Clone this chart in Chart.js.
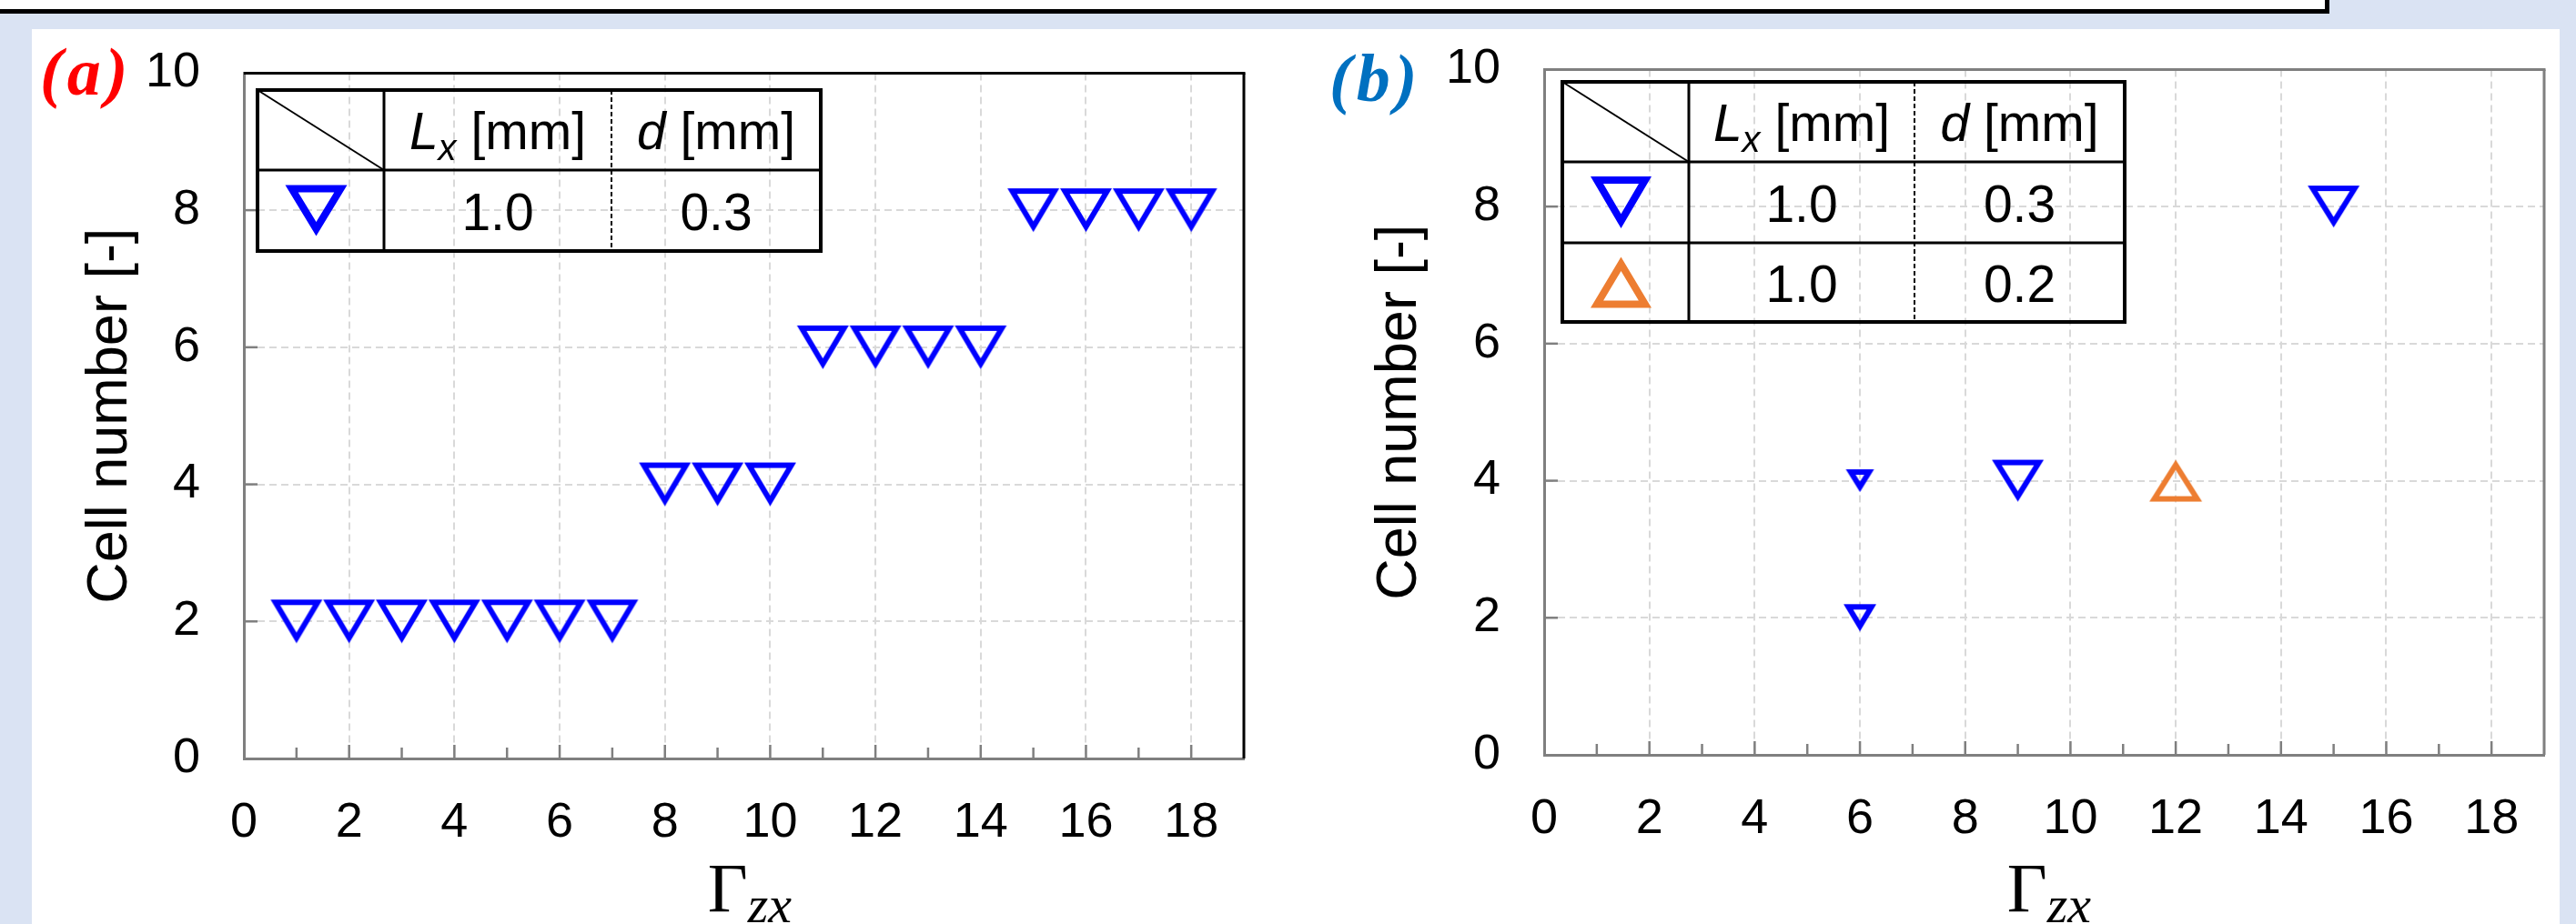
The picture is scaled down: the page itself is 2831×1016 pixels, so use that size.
<!DOCTYPE html>
<html>
<head>
<meta charset="utf-8">
<script src="https://cdn.jsdelivr.net/npm/chart.js@4.4.0/dist/chart.umd.min.js"></script>
<style>
  html, body { margin: 0; padding: 0; }
  body {
    width: 2831px; height: 1016px; position: relative; overflow: hidden;
    background: #dae3f3; font-family: 'Liberation Sans', Arial, sans-serif;
  }
  #topbox {
    position: absolute; left: -10px; top: -10px; width: 2565px; height: 20px;
    background: #fff; border-right: 5px solid #000; border-bottom: 5px solid #000;
  }
  #sheet { position: absolute; left: 35px; top: 32px; width: 2778px; height: 1000px; background: #fff; }
  canvas { position: absolute; }
  #chartA { left: 0; top: 0; }
  #chartB { left: 1429px; top: -4px; }
  #overlay { position: absolute; left: 0; top: 0; }
</style>
</head>
<body>
<div id="topbox"></div>
<div id="sheet"></div>
<canvas id="chartA" width="1420" height="1016"></canvas>
<canvas id="chartB" width="1402" height="1016"></canvas>
<svg id="overlay" width="2831" height="1016" xmlns="http://www.w3.org/2000/svg"></svg>

<script>
// ---- data ----
const xTickLabels = [0, 2, 4, 6, 8, 10, 12, 14, 16, 18];
const xMinorTicks = [1, 3, 5, 7, 9, 11, 13, 15, 17];
const yTickLabels = [0, 2, 4, 6, 8, 10];

// panel (a): L_x = 1.0 mm, d = 0.3 mm
const gammaA = [1, 2, 3, 4, 5, 6, 7, 8, 9, 10, 11, 12, 13, 14, 15, 16, 17, 18];
const cellsA = [2, 2, 2, 2, 2, 2, 2, 4, 4, 4, 6, 6, 6, 6, 8, 8, 8, 8];

// panel (b)
const gammaB03 = [6, 6, 9, 15];
const cellsB03 = [2, 4, 4, 8];
const gammaB02 = [12];
const cellsB02 = [4];

const tableA = [['1.0', '0.3']];
const tableB = [['1.0', '0.3'], ['1.0', '0.2']];

// marker sizes (w, h) per point, styling only
const sizeA = [57, 48];
const sizeB03 = [[36, 30], [31, 25], [57, 46], [57, 46]];
const sizeB02 = [58, 46];

const BLUE = '#0000ff';
const ORANGE = '#ed7d31';
const AXIS = '#7f7f7f';
const GRID = '#d9d9d9';

function triPoints(w, h, t, up) {
  const pts = up ? [[w / 2, 0], [w, h], [0, h]] : [[0, 0], [w, 0], [w / 2, h]];
  const side = Math.hypot(w / 2, h);
  const perim = w + 2 * side;
  const r = (w * h / 2) / (perim / 2);
  const ix = w / 2;
  const iy = up ? h - w * h / perim : w * h / perim;
  const k = Math.max(r - t, 0) / r;
  const inner = pts.map(([px, py]) => [ix + (px - ix) * k, iy + (py - iy) * k]);
  return { pts, inner };
}

function triMarker(w, h, t, color, up) {
  const pad = 2;
  const c = document.createElement('canvas');
  c.width = w + pad * 2;
  c.height = h + pad * 2;
  const g = c.getContext('2d');
  g.translate(pad, pad);
  const { pts, inner } = triPoints(w, h, t, up);
  g.beginPath();
  pts.forEach(([x, y], i) => i ? g.lineTo(x, y) : g.moveTo(x, y));
  g.closePath();
  inner.forEach(([x, y], i) => i ? g.lineTo(x, y) : g.moveTo(x, y));
  g.closePath();
  g.fillStyle = color;
  g.fill('evenodd');
  return c;
}

const frameTicks = {
  id: 'frameTicks',
  beforeDatasetsDraw(chart, args, opts) {
    const { ctx, chartArea: a, scales: { x, y } } = chart;
    const line = (x1, y1, x2, y2) => { ctx.beginPath(); ctx.moveTo(x1, y1); ctx.lineTo(x2, y2); ctx.stroke(); };
    ctx.save();
    ctx.strokeStyle = AXIS;
    ctx.lineWidth = 2.5;
    xTickLabels.slice(1).forEach(v => { const px = x.getPixelForValue(v); line(px, a.bottom, px, a.bottom - 15); });
    xMinorTicks.forEach(v => { const px = x.getPixelForValue(v); line(px, a.bottom, px, a.bottom - 12); });
    yTickLabels.slice(1, -1).forEach(v => { const py = y.getPixelForValue(v); line(a.left, py, a.left + 15, py); });
    ctx.strokeStyle = opts.frame;
    ctx.lineWidth = 3;
    line(a.left, a.top, a.right + 1.5, a.top);
    line(a.right, a.top, a.right, a.bottom);
    ctx.restore();
  }
};

function makeChart(id, datasets, frame, titlePad, rightPad) {
  return new Chart(document.getElementById(id), {
    type: 'scatter',
    data: { datasets },
    plugins: [frameTicks],
    options: {
      responsive: false,
      animation: false,
      devicePixelRatio: 1,
      layout: { padding: { left: 60, top: 79, right: rightPad, bottom: 0 } },
      plugins: {
        legend: { display: false },
        tooltip: { enabled: false },
        frameTicks: { frame }
      },
      scales: {
        x: {
          type: 'linear', min: 0, max: 19,
          afterFit: s => { s.height = 182; },
          afterBuildTicks: s => { s.ticks = xTickLabels.map(v => ({ value: v })); },
          ticks: { font: { size: 54 }, color: '#000', padding: 39, maxRotation: 0, autoSkip: false },
          grid: { color: GRID, lineWidth: 2, drawTicks: false },
          border: { color: AXIS, width: 3, dash: [8, 5] }
        },
        y: {
          type: 'linear', min: 0, max: 10,
          afterFit: s => { s.width = 208; },
          afterBuildTicks: s => { s.ticks = yTickLabels.map(v => ({ value: v })); },
          ticks: { font: { size: 54 }, color: '#000', padding: 48 },
          grid: { color: GRID, lineWidth: 2, drawTicks: false },
          border: { color: AXIS, width: 3, dash: [8, 5] },
          title: {
            display: true, text: 'Cell number [-]', color: '#000',
            font: { size: 63 }, padding: { top: titlePad, bottom: 0 }
          }
        }
      }
    }
  });
}

Chart.defaults.font.family = "'Liberation Sans', Arial, sans-serif";

const markA = triMarker(sizeA[0], sizeA[1], 6, BLUE, false);
makeChart('chartA', [{
  label: 'Lx 1.0, d 0.3',
  data: gammaA.map((g, i) => ({ x: g, y: cellsA[i] })),
  pointStyle: markA,
  pointRadius: 10
}], '#000', 24, 53);

const marksB03 = sizeB03.map(([w, h]) => triMarker(w, h, 6, BLUE, false));
const markB02 = triMarker(sizeB02[0], sizeB02[1], 6, ORANGE, true);
makeChart('chartB', [{
  label: 'Lx 1.0, d 0.3',
  data: gammaB03.map((g, i) => ({ x: g, y: cellsB03[i] })),
  pointStyle: ctx => marksB03[ctx.dataIndex],
  pointRadius: 10
}, {
  label: 'Lx 1.0, d 0.2',
  data: gammaB02.map((g, i) => ({ x: g, y: cellsB02[i] })),
  pointStyle: markB02,
  pointRadius: 10
}], AXIS, 12, 35);

// ---- overlay: panel letters, axis titles, legend tables ----
const svg = document.getElementById('overlay');
const NS = 'http://www.w3.org/2000/svg';
function el(tag, attrs, parent = svg) {
  const e = document.createElementNS(NS, tag);
  for (const k in attrs) e.setAttribute(k, attrs[k]);
  parent.appendChild(e);
  return e;
}
function text(x, y, html, attrs = {}) {
  const t = el('text', Object.assign({ x, y, 'font-family': "'Liberation Sans', Arial, sans-serif", 'font-size': 57, fill: '#000' }, attrs));
  t.innerHTML = html;
  return t;
}
function triPath(cx, cy, w, h, t, up) {
  const { pts, inner } = triPoints(w, h, t, up);
  const ox = cx - w / 2, oy = cy - h / 2;
  const sub = p => 'M' + p.map(([x, y]) => (x + ox).toFixed(1) + ' ' + (y + oy).toFixed(1)).join(' L') + ' Z';
  return sub(pts) + ' ' + sub(inner);
}

function legendTable(x0, y0, colW, rowH, rows, marks) {
  const xs = [x0];
  colW.forEach(w => xs.push(xs[xs.length - 1] + w));
  const ys = [y0];
  rowH.forEach(h => ys.push(ys[ys.length - 1] + h));
  const right = xs[xs.length - 1], bottom = ys[ys.length - 1];
  el('line', { x1: xs[0], y1: ys[0], x2: xs[1], y2: ys[1], stroke: '#000', 'stroke-width': 2 });
  ys.slice(1, -1).forEach(y => el('line', { x1: x0, y1: y, x2: right, y2: y, stroke: '#000', 'stroke-width': 3 }));
  el('line', { x1: xs[1], y1: y0, x2: xs[1], y2: bottom, stroke: '#000', 'stroke-width': 3 });
  el('line', { x1: xs[2], y1: y0, x2: xs[2], y2: bottom, stroke: '#000', 'stroke-width': 2, 'stroke-dasharray': '5 3' });
  el('rect', { x: x0, y: y0, width: right - x0, height: bottom - y0, fill: 'none', stroke: '#000', 'stroke-width': 4 });
  const c1 = (xs[1] + xs[2]) / 2, c2 = (xs[2] + xs[3]) / 2;
  const hb = (ys[0] + ys[1]) / 2 + 21;
  text(c1, hb, '<tspan font-style="italic">L</tspan><tspan font-style="italic" font-size="40" dy="12">x</tspan><tspan dy="-12"> [mm]</tspan>', { 'text-anchor': 'middle' });
  text(c2, hb, '<tspan font-style="italic">d</tspan> [mm]', { 'text-anchor': 'middle' });
  rows.forEach((r, i) => {
    const cy = (ys[i + 1] + ys[i + 2]) / 2;
    text(c1, cy + 21, r[0], { 'text-anchor': 'middle' });
    text(c2, cy + 21, r[1], { 'text-anchor': 'middle' });
    const m = marks[i];
    el('path', { d: triPath((xs[0] + xs[1]) / 2 - 5, cy, m.w, m.h, 8, m.up), fill: m.color, 'fill-rule': 'evenodd' });
  });
}

legendTable(283, 99, [139, 250, 230], [88, 89], tableA, [{ w: 68, h: 56, up: false, color: BLUE }]);
legendTable(1717, 90, [139, 248, 231], [88, 89, 87], tableB, [
  { w: 67, h: 57, up: false, color: BLUE },
  { w: 67, h: 56, up: true, color: ORANGE }
]);

const serif = "'Liberation Serif', 'Times New Roman', serif";
text(44, 104, '(a)', { 'font-family': serif, 'font-size': 74, 'font-weight': 'bold', 'font-style': 'italic', fill: '#ff0000', 'letter-spacing': 5 });
text(1461, 111, '(b)', { 'font-family': serif, 'font-size': 74, 'font-weight': 'bold', 'font-style': 'italic', fill: '#0070c0', 'letter-spacing': 5 });
[824, 2252].forEach(cx => {
  text(cx, 1002, 'Γ<tspan font-style="italic" font-size="58" dy="12">zx</tspan>', { 'font-family': serif, 'font-size': 76, 'text-anchor': 'middle' });
});
</script>
</body>
</html>
